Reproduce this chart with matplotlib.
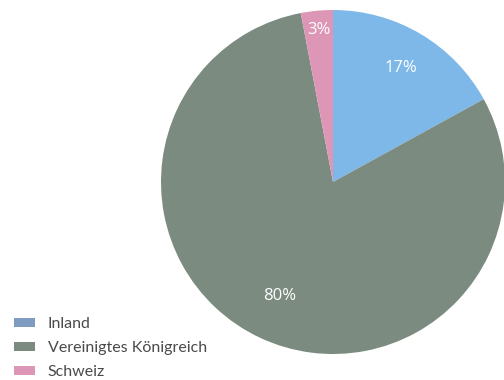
import matplotlib
matplotlib.use("Agg")
import matplotlib.pyplot as plt
from matplotlib.patches import Patch
import numpy as np

categories = ["Inland", "Vereinigtes Königreich", "Schweiz"]
values = [17, 80, 3]
slice_colors = ["#7db8e8", "#7b8b7f", "#dd96b5"]
legend_colors = ["#7f9bbf", "#7b8b7f", "#dd96b5"]
labels = ["17%", "80%", "3%"]
label_dist = [0.77, 0.73, 0.885]

fig = plt.figure(figsize=(5.04, 3.8), dpi=100)
cx, cy, r = 333, 182, 172
W, H = 504, 380
ax = fig.add_axes([(cx - r) / W, (H - cy - r) / H, 2 * r / W, 2 * r / H])
wedges, _ = ax.pie(values, colors=slice_colors, startangle=90, counterclock=False,
                   radius=1, wedgeprops=dict(linewidth=0))
for w, lab, d in zip(wedges, labels, label_dist):
    ang = np.deg2rad((w.theta1 + w.theta2) / 2)
    ax.text(d * np.cos(ang), d * np.sin(ang), lab, ha="center", va="center",
            color="white", fontsize=12, family="Open Sans")
ax.set_xlim(-1, 1)
ax.set_ylim(-1, 1)
ax.set_aspect("auto")
ax.axis("off")

handles = [Patch(facecolor=c, edgecolor="none") for c in legend_colors]
fig.legend(handles, categories, loc="lower left", bbox_to_anchor=(14 / W, 1 / H),
           borderaxespad=0, borderpad=0,
           frameon=False, prop=dict(family="Lato", size=11.5), handlelength=1.3,
           handleheight=0.5, labelspacing=0.62, handletextpad=0.8, labelcolor="#4a4a4a")

fig.savefig("out.png", dpi=100)
